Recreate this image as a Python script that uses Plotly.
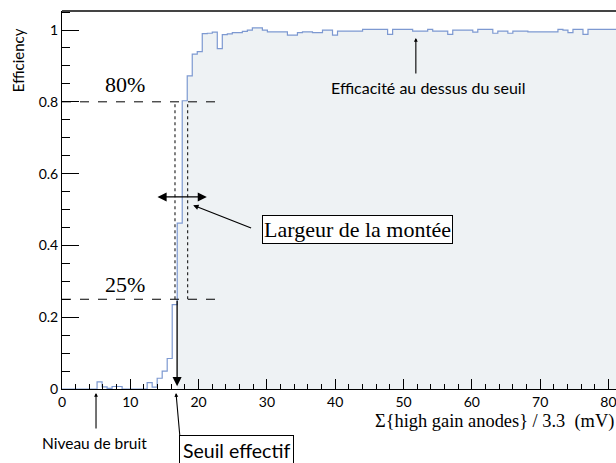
import plotly.graph_objects as go

# ---- data -------------------------------------------------------------
bin_width = 110.0 / 150.0
efficiency = [
    0, 0, 0, 0, 0, 0, 0, 0.02, 0.006, 0.002,
    0.007, 0.007, 0, 0, 0, 0, 0, 0.018, 0.005, 0.03,
    0.05, 0.085, 0.235, 0.462, 0.803, 0.872, 0.933, 0.94, 0.99, 0.991,
    0.994, 0.948, 0.987, 0.989, 0.993, 0.993, 0.996, 1.0, 1.006, 1.006,
    1.0, 0.995, 0.995, 0.995, 0.995, 0.986, 0.986, 0.993, 0.995, 0.995,
    0.993, 0.993, 1.0, 1.0, 0.986, 0.997, 0.997, 0.997, 0.997, 0.997,
    1.002, 1.002, 1.002, 1.002, 1.002, 0.988, 1.002, 1.002, 1.002, 1.002,
    0.997, 0.997, 0.997, 1.002, 0.997, 0.997, 0.997, 0.988, 1.0, 1.0,
    1.0, 1.0, 0.994, 1.002, 1.002, 1.002, 0.991, 0.997, 0.997, 0.991,
    0.997, 0.997, 0.997, 0.995, 0.995, 0.995, 0.995, 0.995, 0.995, 1.002,
    1.0, 0.993, 1.002, 1.002, 0.988, 1.002, 1.002, 1.002, 1.002, 1.002,
    1.002,
]
fill_from_bin = 23
x_range = [0, 81.1]
y_range = [0, 1.053]
level_high = 0.8
level_low = 0.25
x_dotted = [16.54, 18.4]
threshold = 16.85

edges = [i * bin_width for i in range(len(efficiency) + 1)]
xs = edges[:-1] + [edges[-1]]
ys = efficiency + [efficiency[-1]]

LINE = "#7d99d1"
FILL = "#eef2f4"
SANS = "Lato, 'Liberation Sans', sans-serif"
SERIF = "'Liberation Serif', 'DejaVu Serif', serif"

fig = go.Figure()
fig.add_trace(go.Scatter(
    x=xs[fill_from_bin:], y=ys[fill_from_bin:], mode="lines",
    line=dict(shape="hv", width=0, color=FILL), fill="tozeroy",
    fillcolor=FILL, hoverinfo="skip", showlegend=False))
fig.add_trace(go.Scatter(
    x=xs, y=ys, mode="lines", line=dict(shape="hv", width=1.2, color=LINE),
    showlegend=False))

shapes = []
for lv in (level_high, level_low):
    shapes.append(dict(type="line", xref="x", yref="y", x0=0, x1=23.4,
                       y0=lv, y1=lv, line=dict(color="black", width=1, dash="dash")))
for xd in x_dotted:
    shapes.append(dict(type="line", xref="x", yref="y", x0=xd, x1=xd,
                       y0=level_low, y1=level_high,
                       line=dict(color="black", width=1, dash="dot")))
fig.update_layout(shapes=shapes)

ann = []
# double arrow (rise width)
ann.append(dict(x=21.2, y=0.535, ax=13.76, ay=0.535, xref="x", yref="y",
                axref="x", ayref="y", text="", showarrow=True, arrowhead=2,
                arrowside="end+start", arrowsize=1.4, arrowwidth=1.3,
                arrowcolor="black"))
# arrow from box to the rise
ann.append(dict(x=19.2, y=0.512, ax=27.9, ay=0.447, xref="x", yref="y",
                axref="x", ayref="y", text="", showarrow=True, arrowhead=2,
                arrowsize=0.9, arrowwidth=1.2, arrowcolor="black"))
# vertical arrow threshold
ann.append(dict(x=threshold, y=0.008, ax=threshold, ay=level_low, xref="x",
                yref="y", axref="x", ayref="y", text="", showarrow=True,
                arrowhead=2, arrowsize=1.4, arrowwidth=1.3, arrowcolor="black"))
# arrow to the plateau
ann.append(dict(x=51.8, y=0.978, ax=51.8, ay=0.875, xref="x", yref="y",
                axref="x", ayref="y", text="", showarrow=True, arrowhead=2,
                arrowsize=0.7, arrowwidth=1.1, arrowcolor="black"))
# arrows below the axis (paper coordinates, tail offsets in pixels)
for hx, hy, dx, dy in [(0.2058, -0.0106, 4, 45), (0.0614, -0.0106, 0, 37)]:
    ann.append(dict(x=hx, y=hy, ax=dx, ay=dy, xref="paper", yref="paper",
                    text="", showarrow=True, arrowhead=2, arrowsize=0.7,
                    arrowwidth=1.1, arrowcolor="black"))

ann += [
    dict(x=9.2, y=0.847, xref="x", yref="y", text="80%", showarrow=False,
         font=dict(family=SERIF, size=22, color="black")),
    dict(x=9.2, y=0.292, xref="x", yref="y", text="25%", showarrow=False,
         font=dict(family=SERIF, size=22, color="black")),
    dict(x=43.2, y=0.443, xref="x", yref="y", text="Largeur de la montée",
         showarrow=False, bordercolor="black", borderwidth=1, borderpad=1,
         bgcolor="white", font=dict(family=SERIF, size=22, color="black")),
    dict(x=53.6, y=0.841, xref="x", yref="y", text="Efficacité au dessus du seuil",
         showarrow=False, font=dict(family=SANS, size=16, color="black")),
    dict(x=0.0578, y=-0.1429, xref="paper", yref="paper", text="Niveau de bruit",
         xanchor="center", yanchor="middle",
         showarrow=False, font=dict(family=SANS, size=15.5, color="black")),
    dict(x=0.3145, y=-0.1614, xref="paper", yref="paper", text="Seuil effectif",
         xanchor="center", yanchor="middle",
         showarrow=False, bordercolor="black", borderwidth=1, borderpad=3,
         bgcolor="white", font=dict(family=SANS, size=19.5, color="black")),
    dict(x=1.0, y=-0.085, xref="paper", yref="paper", xanchor="right",
         yanchor="middle", text="Σ{high gain anodes} / 3.3  (mV)",
         showarrow=False, font=dict(family=SERIF, size=18.4, color="black")),
    dict(x=-0.0794, y=0.87, xref="paper", yref="paper", textangle=-90,
         xanchor="center", yanchor="middle",
         text="Efficiency", showarrow=False,
         font=dict(family=SANS, size=15, color="black")),
]
fig.update_layout(annotations=ann)

fig.update_xaxes(range=x_range, dtick=10, tick0=0, ticks="inside", ticklen=10,
                 tickwidth=1, tickcolor="black", showline=True, linecolor="black",
                 linewidth=1, mirror=False, showgrid=False, zeroline=False,
                 ticklabeloverflow="allow",
                 minor=dict(dtick=2, ticks="inside", ticklen=5, tickcolor="black"),
                 tickfont=dict(family=SANS, size=14, color="black"))
fig.update_yaxes(range=y_range, dtick=0.2, tick0=0, ticks="inside", ticklen=17,
                 tickwidth=1, tickcolor="black", showline=True, linecolor="black",
                 linewidth=1, showgrid=False, zeroline=False,
                 minor=dict(dtick=0.05, ticks="inside", ticklen=8, tickcolor="black"),
                 tickfont=dict(family=SANS, size=14, color="black"))
fig.add_shape(type="line", xref="paper", yref="paper", x0=0, x1=1, y0=1, y1=1,
              line=dict(color="#444444", width=2))

fig.update_layout(width=616, height=463, margin=dict(l=62, r=0, t=11, b=74),
                  plot_bgcolor="white", paper_bgcolor="white", showlegend=False)
fig.write_html("out.html", config={"displayModeBar": False},
               post_script="document.body.style.margin='0';document.body.style.overflow='hidden';")
